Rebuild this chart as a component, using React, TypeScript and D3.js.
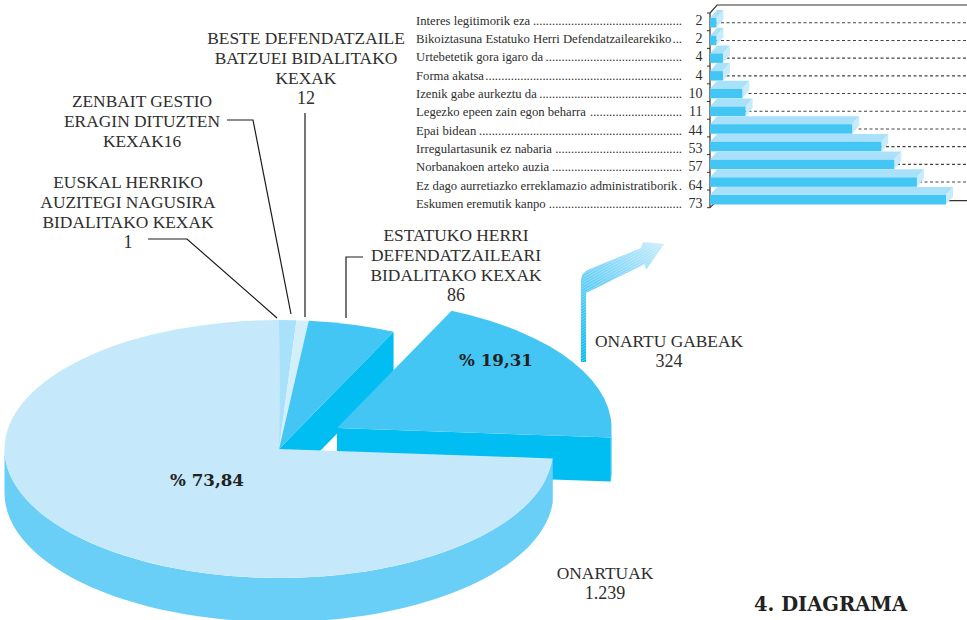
import * as d3 from 'd3'
import { useEffect, useRef } from 'react'

// pie values, clockwise from the top
const pieNames = ['auzitegi', 'gestio', 'beste', 'estatuko', 'onartuGabeak', 'onartuak']
const pieValues = [1, 16, 12, 86, 324, 1239]
const pieColors = ['#a9e1fb', '#a9e1fb', '#d3effc', '#44c6f4', '#44c6f4', '#c5e9fb']

// bar chart
const barLabels = [
  'Interes legitimorik eza',
  'Bikoiztasuna Estatuko Herri Defendatzailearekiko',
  'Urtebetetik gora igaro da',
  'Forma akatsa',
  'Izenik gabe aurkeztu da',
  'Legezko epeen zain egon beharra',
  'Epai bidean',
  'Irregulartasunik ez nabaria',
  'Norbanakoen arteko auzia',
  'Ez dago aurretiazko erreklamazio administratiborik',
  'Eskumen eremutik kanpo',
]
const barValues = [2, 2, 4, 4, 10, 11, 44, 53, 57, 64, 73]

// callouts: text lines, centre x, first baseline, line step
const callouts: [string[], number, number, number][] = [
  [['BESTE DEFENDATZAILE', 'BATZUEI BIDALITAKO', 'KEXAK', '12'], 306, 44, 20],
  [['ZENBAIT GESTIO', 'ERAGIN DITUZTEN', 'KEXAK16'], 142, 107, 20],
  [['EUSKAL HERRIKO', 'AUZITEGI NAGUSIRA', 'BIDALITAKO KEXAK', '1'], 128, 188, 20],
  [['ESTATUKO HERRI', 'DEFENDATZAILEARI', 'BIDALITAKO KEXAK', '86'], 456, 241, 20],
  [['ONARTU GABEAK', '324'], 669, 347, 20],
  [['ONARTUAK', '1.239'], 605, 579, 20],
]
const leaders = [
  'M148,239H187L277,318',
  'M227,120H253L291,314',
  'M305,113V317',
  'M363,257H346V318',
]

const serif = '"Liberation Serif", serif'
const boldSerif = '"DejaVu Serif", serif'
const textColor = '#2e2e2e'

const App = () => {
  const svgRef = useRef<SVGSVGElement>(null)

  useEffect(() => {
    const svg = d3.select(svgRef.current)
    svg.selectAll('*').remove()

    // ---- pie ----
    const cx = 279, cy = 449, rx = 274.5, ry = 129, depth = 44
    const explode = { x: 58, y: -21 }
    const wallDark = '#00bdf2'
    const sideColor = '#6acff7'

    const arcs = d3.pie<number>().sort(null)(pieValues)
    const arc = d3.arc<d3.PieArcDatum<number>>().innerRadius(0).outerRadius(rx)
    const px = (a: number) => rx * Math.sin(a)
    const py = (a: number) => -ry * Math.cos(a)
    const line = d3.line()

    // outer rim between two angles
    const rim = (a0: number, a1: number) => {
      const steps = d3.range(0, 61).map(i => a0 + (a1 - a0) * i / 60)
      const top = steps.map(a => [px(a), py(a)] as [number, number])
      const bottom = steps.slice().reverse().map(a => [px(a), py(a) + depth] as [number, number])
      return line([...top, ...bottom]) + 'Z'
    }
    // flat cut wall from the centre to the rim
    const wall = (a: number) => line([[0, 0], [px(a), py(a)], [px(a), py(a) + depth], [0, depth]]) + 'Z'

    const main = svg.append('g').attr('transform', `translate(${cx},${cy})`)
    const estatuko = arcs[pieNames.indexOf('estatuko')]
    const gabeak = arcs[pieNames.indexOf('onartuGabeak')]
    const onartuak = arcs[pieNames.indexOf('onartuak')]

    main.append('path').attr('d', wall(estatuko.endAngle)).attr('fill', wallDark)

    const out = main.append('g').attr('transform', `translate(${explode.x},${explode.y})`)
    out.append('path').attr('d', wall(gabeak.endAngle)).attr('fill', wallDark)
    out.append('path').attr('d', rim(Math.PI / 2, gabeak.endAngle)).attr('fill', wallDark)
    out.append('g').attr('transform', `scale(1,${ry / rx})`)
      .append('path').attr('d', arc(gabeak)).attr('fill', pieColors[4])

    main.append('path').attr('d', rim(onartuak.startAngle, Math.PI * 1.5)).attr('fill', sideColor)

    main.append('g').attr('transform', `scale(1,${ry / rx})`)
      .selectAll('path')
      .data(arcs.filter(d => d !== gabeak))
      .join('path')
      .attr('d', d => arc(d))
      .attr('fill', d => pieColors[d.index])

    // ---- bars ----
    const x = d3.scaleLinear().domain([0, 73]).range([710, 946])
    const y = d3.scaleBand().domain(barLabels).range([13, 207.7])
    const labelY = d3.scalePoint().domain(barLabels).range([24.5, 208])
    const barTop = 5, barH = 9.5, skewX = 7, skewY = 8
    const right = 967
    const axisColor = '#333'

    const chart = svg.append('g')
    const rows = barLabels.map((label, i) => ({ label, value: barValues[i] }))

    // dashed lines behind the bars
    chart.selectAll('line.grid')
      .data(rows.slice(0, -1))
      .join('line')
      .attr('class', 'grid')
      .attr('x1', x(0))
      .attr('x2', right)
      .attr('y1', d => y(d.label)! + barTop + barH / 2)
      .attr('y2', d => y(d.label)! + barTop + barH / 2)
      .attr('stroke', '#444')
      .attr('stroke-width', 1.1)
      .attr('stroke-dasharray', '3,2.5')

    const frameTop = y(barLabels[0])!
    const frameBottom = y.range()[1]
    const frame = `M${x(0)},${frameBottom}V${frameTop}l${skewX},${-skewY}H${right}`
    chart.append('path').attr('d', frame).attr('fill', 'none').attr('stroke', axisColor).attr('stroke-width', 1.2)
    chart.append('path')
      .attr('d', `M${x(0)},${frameBottom}l${skewX},${-skewY + 1}H${right}`)
      .attr('fill', 'none').attr('stroke', axisColor).attr('stroke-width', 1.2)

    chart.selectAll('line.tick')
      .data([...barLabels.map(d => y(d)!), frameBottom])
      .join('line')
      .attr('class', 'tick')
      .attr('x1', x(0) - 3)
      .attr('x2', x(0))
      .attr('y1', d => d)
      .attr('y2', d => d)
      .attr('stroke', axisColor)
      .attr('stroke-width', 1)

    const bar = chart.selectAll('g.bar')
      .data(rows)
      .join('g')
      .attr('class', 'bar')
      .attr('transform', d => `translate(0,${y(d.label)! + barTop})`)

    bar.append('path')
      .attr('d', d => `M${x(0)},0l${skewX},${-skewY}H${x(d.value) + skewX}L${x(d.value)},0Z`)
      .attr('fill', '#a9e1fb')
    bar.append('path')
      .attr('d', d => `M${x(d.value)},0l${skewX},${-skewY}v${barH}L${x(d.value)},${barH}Z`)
      .attr('fill', '#c8ebfb')
    bar.append('rect')
      .attr('x', x(0))
      .attr('y', 0)
      .attr('width', d => x(d.value) - x(0))
      .attr('height', barH)
      .attr('fill', '#44c6f4')

    // row labels with dot leaders
    const labelX = 416, dotsEnd = 682
    const fontSize = 12.7
    rows.forEach(d => {
      const t = chart.append('text')
        .attr('x', labelX)
        .attr('y', labelY(d.label)!)
        .attr('font-family', serif)
        .attr('font-size', fontSize)
        .attr('fill', textColor)
        .text(d.label)
      const w = (t.node() as SVGTextElement).getComputedTextLength()
      const n = Math.max(0, Math.floor((dotsEnd - labelX - w - 1) / (fontSize * 0.25)))
      chart.append('text')
        .attr('x', dotsEnd)
        .attr('y', labelY(d.label)!)
        .attr('text-anchor', 'end')
        .attr('font-family', serif)
        .attr('font-size', fontSize)
        .attr('fill', textColor)
        .text('.'.repeat(n))
      chart.append('text')
        .attr('x', 702.5)
        .attr('y', labelY(d.label)!)
        .attr('text-anchor', 'end')
        .attr('font-family', serif)
        .attr('font-size', 14)
        .attr('fill', textColor)
        .text(d.value)
    })

    // ---- arrow ----
    const defs = svg.append('defs')
    const grad = defs.append('linearGradient')
      .attr('id', 'arrowGrad')
      .attr('gradientUnits', 'userSpaceOnUse')
      .attr('x1', 583).attr('y1', 362).attr('x2', 664).attr('y2', 244)
    grad.append('stop').attr('offset', 0).attr('stop-color', '#00bdf2')
    grad.append('stop').attr('offset', 0.5).attr('stop-color', '#6acff7')
    grad.append('stop').attr('offset', 1).attr('stop-color', '#c8ecfc')
    const hatch = defs.append('pattern')
      .attr('id', 'arrowHatch')
      .attr('patternUnits', 'userSpaceOnUse')
      .attr('width', 2.4).attr('height', 2.4)
      .attr('patternTransform', 'rotate(-30)')
    hatch.append('line').attr('x1', 0).attr('x2', 2.4).attr('y1', 1.2).attr('y2', 1.2)
      .attr('stroke', '#fff').attr('stroke-opacity', 0.3).attr('stroke-width', 0.8)
    const arrow = 'M581,362V281Q581,272 590,269L641,248L643,242L664,244L646,270L645,264L586,293V362Z'
    svg.append('path').attr('d', arrow).attr('fill', 'url(#arrowGrad)')
    svg.append('path').attr('d', arrow).attr('fill', 'url(#arrowHatch)')

    // ---- leaders and text ----
    svg.selectAll('path.leader')
      .data(leaders)
      .join('path')
      .attr('class', 'leader')
      .attr('d', d => d)
      .attr('fill', 'none')
      .attr('stroke', '#1c1c1c')
      .attr('stroke-width', 1.2)

    callouts.forEach(([lines, tx, ty, step]) => {
      svg.append('g')
        .selectAll('text')
        .data(lines)
        .join('text')
        .attr('x', tx)
        .attr('y', (_, i) => ty + i * step)
        .attr('text-anchor', 'middle')
        .attr('font-family', serif)
        .attr('font-size', d => (/^[\d.]+$/.test(d) ? 18 : 17.4))
        .attr('fill', textColor)
        .text(d => d)
    })

    const bold = (s: string, tx: number, ty: number, size: number) =>
      svg.append('text')
        .attr('x', tx).attr('y', ty)
        .attr('font-family', boldSerif)
        .attr('font-weight', 'bold')
        .attr('font-size', size)
        .attr('fill', '#222')
        .text(s)

    bold('% 19,31', 459, 365.5, 16.7)
    bold('% 73,84', 170, 486, 16.7)
    bold('4. DIAGRAMA', 754, 611, 19.5)
  }, [])

  return (
    <svg
      ref={svgRef}
      width={967}
      height={620}
      style={{ position: 'absolute', left: 0, top: 0, display: 'block' }}
    />
  )
}

export default App
